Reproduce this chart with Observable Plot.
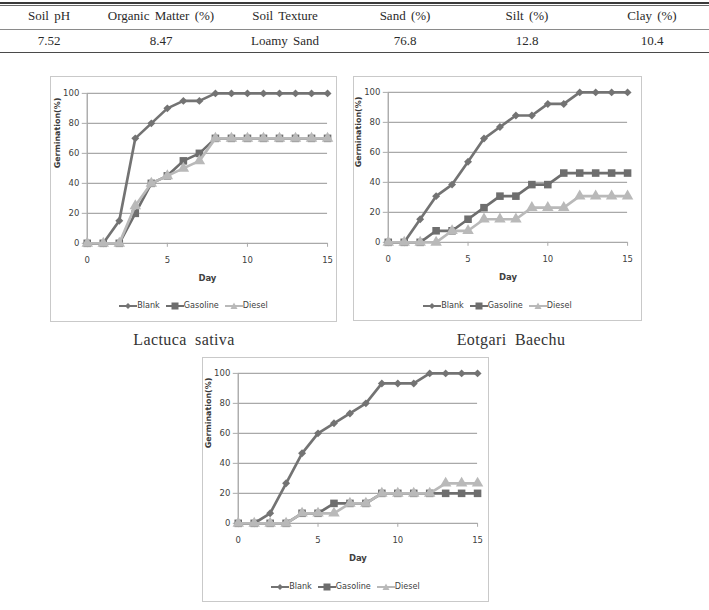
<!DOCTYPE html>
<html>
<head>
<meta charset="utf-8">
<script src="https://cdn.jsdelivr.net/npm/d3@7"></script>
<script src="https://cdn.jsdelivr.net/npm/@observablehq/plot@0.6"></script>
<style>
  html, body { margin: 0; padding: 0; background: #fff; }
  #page { position: relative; width: 709px; height: 610px; overflow: hidden; background: #fff; }
  .cell { position: absolute; width: 160px; text-align: center; font-family: "Liberation Serif", "Times New Roman", serif; font-size: 13px; line-height: 16px; color: #2a2a2a; white-space: nowrap; word-spacing: 2px; }
  .hline { position: absolute; left: 0; width: 709px; }
  .box { position: absolute; box-sizing: border-box; border: 1.5px solid #c9c9c9; background: #fff; }
  .box svg { position: absolute; left: 0; top: 0; }
  .legend { position: absolute; left: 0; right: 0; text-align: center; font-family: "Liberation Sans Narrow", "DejaVu Sans Condensed", sans-serif; font-size: 9px; color: #404040; line-height: 10px; white-space: nowrap; }
  .legend span.item { display: inline-block; margin: 0 3px; }
  .legend svg { position: static; vertical-align: middle; }
  .caption { position: absolute; width: 200px; text-align: center; font-family: "Liberation Serif", "Times New Roman", serif; font-size: 16px; line-height: 18px; color: #333; letter-spacing: 0.4px; word-spacing: 4px; white-space: nowrap; }
</style>
</head>
<body>
<div id="page"></div>
<script>
// ---------- data ----------
const tableHeaders = ["Soil pH", "Organic Matter (%)", "Soil Texture", "Sand (%)", "Silt (%)", "Clay (%)"];
const tableValues = ["7.52", "8.47", "Loamy Sand", "76.8", "12.8", "10.4"];

const days = [0, 1, 2, 3, 4, 5, 6, 7, 8, 9, 10, 11, 12, 13, 14, 15];
const seriesNames = ["Blank", "Gasoline", "Diesel"];
const xTicks = [0, 5, 10, 15];
const yTicks = [0, 20, 40, 60, 80, 100];

const lactucaBlank    = [0, 0, 15, 70, 80, 90, 95, 95, 100, 100, 100, 100, 100, 100, 100, 100];
const lactucaGasoline = [0, 0, 0, 20, 40, 45, 55, 60, 70, 70, 70, 70, 70, 70, 70, 70];
const lactucaDiesel   = [0, 0, 0, 25, 40, 45, 50, 55, 70, 70, 70, 70, 70, 70, 70, 70];

const eotgariBlank    = [0, 0, 15.4, 30.8, 38.5, 53.8, 69.2, 76.9, 84.6, 84.6, 92.3, 92.3, 100, 100, 100, 100];
const eotgariGasoline = [0, 0, 0, 7.7, 7.7, 15.4, 23.1, 30.8, 30.8, 38.5, 38.5, 46.2, 46.2, 46.2, 46.2, 46.2];
const eotgariDiesel   = [0, 0, 0, 0, 7.7, 7.7, 15.4, 15.4, 15.4, 23.1, 23.1, 23.1, 30.8, 30.8, 30.8, 30.8];

const thirdBlank    = [0, 0, 6.7, 26.7, 46.7, 60, 66.7, 73.3, 80, 93.3, 93.3, 93.3, 100, 100, 100, 100];
const thirdGasoline = [0, 0, 0, 0, 6.7, 6.7, 13.3, 13.3, 13.3, 20, 20, 20, 20, 20, 20, 20];
const thirdDiesel   = [0, 0, 0, 0, 6.7, 6.7, 6.7, 13.3, 13.3, 20, 20, 20, 20, 26.7, 26.7, 26.7];

const captions = ["Lactuca sativa", "Eotgari Baechu"];

// ---------- styles ----------
const seriesColor = {Blank: "#737373", Gasoline: "#6e6e6e", Diesel: "#b9b9b9"};
const seriesSymbol = {Blank: "diamond2", Gasoline: "square", Diesel: "triangle"};
const seriesR = {Blank: 3.6, Gasoline: 4.3, Diesel: 4.3};
const gridColor = "#a9a9a9";
const chartFont = '"Liberation Sans Narrow", "DejaVu Sans Condensed", sans-serif';

const page = document.getElementById("page");

// ---------- table ----------
const colCenters = [49, 161, 285, 405, 527, 652];
function addLine(top, h, color) {
  const d = document.createElement("div");
  d.className = "hline";
  d.style.top = top + "px"; d.style.height = h + "px"; d.style.background = color;
  page.appendChild(d);
}
addLine(2, 2, "#3a3a3a");
addLine(5, 1, "#6a6a6a");
addLine(29, 1, "#8a8a8a");
addLine(52, 1, "#4a4a4a");
function addCells(texts, top) {
  texts.forEach((t, i) => {
    const d = document.createElement("div");
    d.className = "cell";
    d.textContent = t;
    d.style.left = (colCenters[i] - 80) + "px";
    d.style.top = top + "px";
    page.appendChild(d);
  });
}
addCells(tableHeaders, 8);
addCells(tableValues, 33);

// ---------- charts ----------
function legendSwatch(name) {
  const c = seriesColor[name];
  let marker;
  if (name === "Blank") marker = `<path d="M9,2 L12,5 L9,8 L6,5 Z" fill="${c}"/>`;
  else if (name === "Gasoline") marker = `<rect x="5.5" y="1.5" width="7" height="7" fill="${c}"/>`;
  else marker = `<path d="M9,1.5 L12.5,8 L5.5,8 Z" fill="${c}"/>`;
  return `<svg width="18" height="10" viewBox="0 0 18 10"><line x1="0" y1="5" x2="18" y2="5" stroke="${c}" stroke-width="2"/>${marker}</svg>`;
}

function makeChart(cfg) {
  const arrays = [cfg.blank, cfg.gasoline, cfg.diesel];
  const rows = [];
  seriesNames.forEach((s, i) => days.forEach((d, j) => rows.push({day: d, value: arrays[i][j], series: s})));

  const seriesMarks = seriesNames.flatMap((s) => {
    const data = rows.filter((r) => r.series === s);
    return [
      Plot.line(data, {x: "day", y: "value", stroke: seriesColor[s], strokeWidth: 2.7}),
      Plot.dot(data, {x: "day", y: "value", symbol: () => seriesSymbol[s], fill: seriesColor[s], r: seriesR[s], stroke: "none"})
    ];
  });

  const svg = Plot.plot({
    width: cfg.w,
    height: cfg.svgH,
    marginLeft: cfg.mL,
    marginRight: cfg.mR,
    marginTop: cfg.mT,
    marginBottom: cfg.svgH - cfg.mT - cfg.plotH,
    x: {domain: [0, 15]},
    y: {domain: [0, 100]},
    symbol: {type: "identity"},
    style: {fontFamily: chartFont, fontSize: "9.5px", color: "#404040", background: "transparent", overflow: "visible"},
    marks: [
      Plot.gridY(yTicks.filter((t) => t > 0), {stroke: gridColor, strokeOpacity: 1, strokeWidth: 1.4}),
      Plot.ruleX([0], {y1: 0, y2: 100, stroke: gridColor, strokeWidth: 1.4}),
      Plot.ruleY([0], {stroke: gridColor, strokeWidth: 1.4}),
      Plot.axisY({ticks: yTicks, tickSize: 5, tickPadding: 3, label: null, stroke: gridColor, fill: "#404040"}),
      Plot.axisX({ticks: xTicks, tickSize: 4, tickPadding: 9, label: null, stroke: gridColor, fill: "#404040"}),
      ...seriesMarks,
      Plot.text(["Day"], {frameAnchor: "bottom", dy: 38, fontWeight: "bold", fill: "#404040", fontSize: 9.5}),
      Plot.text(["Germination(%)"], {frameAnchor: "left", dx: -30, rotate: -90, fontWeight: "bold", fill: "#3a3a3a", fontSize: 8, fontFamily: '"DejaVu Sans", Verdana, sans-serif'})
    ]
  });

  const box = document.createElement("div");
  box.className = "box";
  box.style.left = cfg.x + "px"; box.style.top = cfg.y + "px";
  box.style.width = cfg.w + "px"; box.style.height = cfg.h + "px";
  svg.style.left = "-1.5px"; svg.style.top = "-1.5px";
  box.appendChild(svg);

  const leg = document.createElement("div");
  leg.className = "legend";
  leg.style.top = (cfg.legendY - 5) + "px";
  leg.innerHTML = seriesNames.map((s) => `<span class="item">${legendSwatch(s)}${s}</span>`).join("");
  box.appendChild(leg);
  page.appendChild(box);
}

makeChart({blank: lactucaBlank, gasoline: lactucaGasoline, diesel: lactucaDiesel,
  x: 50, y: 76, w: 287, h: 246, svgH: 215, mL: 37, mR: 8, mT: 17, plotH: 151, legendY: 228});
makeChart({blank: eotgariBlank, gasoline: eotgariGasoline, diesel: eotgariDiesel,
  x: 353, y: 76, w: 289, h: 245, svgH: 215, mL: 35, mR: 13, mT: 16, plotH: 151, legendY: 228});
makeChart({blank: thirdBlank, gasoline: thirdGasoline, diesel: thirdDiesel,
  x: 202, y: 357, w: 287, h: 245, svgH: 215, mL: 36, mR: 10, mT: 16, plotH: 151, legendY: 228});

function addCaption(text, cx, cy) {
  const d = document.createElement("div");
  d.className = "caption";
  d.textContent = text;
  d.style.left = (cx - 100) + "px";
  d.style.top = (cy - 9) + "px";
  page.appendChild(d);
}
addCaption(captions[0], 184, 340);
addCaption(captions[1], 511, 340);
</script>
</body>
</html>
